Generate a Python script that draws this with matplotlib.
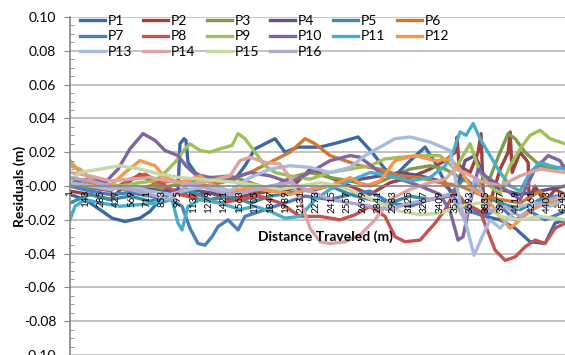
import matplotlib
matplotlib.use("Agg")
import matplotlib.pyplot as plt
from matplotlib.ticker import MultipleLocator, FormatStrFormatter

plt.rcParams['font.family'] = ['Lato', 'DejaVu Sans']

# Dados: indice da amostra (x) e residuo em mm (y)
p1_x = [1,139,278,388,508,646,739,831,923,997,1015,1052,1070,1089,1153,1246,1384,1522,1614,1707,1799,1891,1983,2103,2306,2490,2656,2785,2905,2997,3136,3274,3366,3459,3551,3689,3827,3966,4104,4242,4380,4472,4564]
p1_mm = [-5,-8,-14,-19,-21,-19,-15,-8,-4,-2,25,28,27,14,8,4,2,4,12,22,25,28,20,23,23,26,29,20,10,6,15,23,14,2,-8,-12,-18,-20,-25,-33,-34,-22,-20]

p2_x = [1,185,370,554,646,739,923,1107,1292,1476,1661,1845,2029,2122,2214,2398,2583,2767,2951,3136,3320,3459,3551,3569,3587,3689,3763,3790,3818,3873,3966,4040,4058,4077,4150,4224,4233,4288,4380,4472,4564]
p2_mm = [-3,-5,-8,3,7,3,-2,-6,-4,-8,-5,-3,-2,4,10,5,0,-5,2,5,10,15,20,29,12,8,20,31,-18,-10,10,20,32,8,20,14,-8,0,-10,-2,-5]

p3_x = [1,185,370,554,739,923,1107,1292,1476,1661,1845,2029,2214,2398,2583,2767,2951,3136,3320,3459,3597,3735,3873,3966,4040,4104,4196,4334,4472,4564]
p3_mm = [0,-2,0,-3,-2,0,3,5,6,2,-2,5,8,5,3,0,5,10,12,10,5,0,5,20,31,28,20,12,10,12]

p4_x = [1,278,554,831,1107,1384,1661,1937,2214,2490,2767,3044,3228,3412,3551,3643,3735,3827,3966,4150,4334,4564]
p4_mm = [3,-2,0,-3,-2,-5,-3,0,-3,2,5,8,6,3,-5,15,18,5,-2,-5,-3,0]

p5_x = [1,185,370,554,739,923,1107,1292,1476,1661,1845,2029,2214,2398,2583,2767,2951,3136,3320,3505,3643,3781,3966,4150,4334,4564]
p5_mm = [-10,-5,-8,-6,-9,-5,-3,-8,-6,-10,-6,-4,-2,0,-5,-8,-10,-6,-8,-5,5,-5,-10,-14,-8,-5]

p6_x = [1,185,370,554,739,923,1107,1292,1476,1661,1845,2029,2168,2260,2398,2537,2675,2859,3044,3228,3412,3597,3781,3966,4150,4334,4472,4564]
p6_mm = [5,2,0,-2,0,3,2,0,4,8,14,20,28,25,18,15,12,10,6,5,2,0,-5,-8,-10,-3,-12,-5]

p7_x = [1,185,370,554,739,923,1034,1107,1181,1246,1310,1366,1458,1550,1614,1799,1983,2168,2398,2583,2767,2951,3136,3320,3505,3689,3827,3966,4104,4242,4380,4564]
p7_mm = [0,-3,-5,-4,-6,-8,-12,-25,-34,-35,-30,-24,-20,-26,-18,-14,-10,-6,-8,-5,-3,-10,-12,-8,-6,-15,-18,-12,-20,-15,-20,-15]

p8_x = [1,185,370,554,693,831,1015,1200,1384,1568,1753,1937,2122,2306,2490,2629,2767,2905,2997,3090,3228,3366,3459,3551,3643,3781,3920,4012,4104,4196,4288,4380,4472,4564]
p8_mm = [2,0,-3,4,7,2,-5,-8,-10,-8,-6,-10,-18,-18,-20,-17,-12,-18,-30,-33,-32,-22,-14,-3,-10,-15,-38,-44,-42,-36,-32,-34,-25,-22]

p9_x = [1,93,278,462,646,785,877,969,1061,1107,1200,1292,1384,1495,1550,1614,1707,1799,1891,2029,2214,2398,2583,2767,2905,3044,3228,3412,3551,3643,3689,3781,3873,3966,4012,4058,4150,4242,4334,4426,4518,4564]
p9_mm = [15,8,2,0,2,3,8,14,22,25,21,20,22,24,31,28,20,12,8,6,4,8,10,12,16,17,18,18,10,20,25,8,0,-5,5,12,22,30,33,28,26,25]

p10_x = [1,185,324,444,554,674,785,877,997,1070,1153,1292,1476,1661,1845,2029,2214,2398,2583,2675,2859,3044,3228,3412,3505,3578,3624,3689,3763,3827,3966,4150,4288,4408,4518,4564]
p10_mm = [3,4,2,10,22,31,27,21,18,12,7,5,4,8,6,2,8,15,18,17,8,4,0,-5,-15,-32,-30,-10,10,6,0,-8,10,18,15,10]

p11_x = [1,47,139,278,462,646,831,941,997,1034,1089,1200,1384,1568,1707,1845,1983,2122,2260,2398,2583,2767,2951,3136,3320,3459,3532,3597,3652,3717,3781,3873,3966,4058,4150,4242,4334,4426,4564]
p11_mm = [-20,-12,-8,-10,-12,-11,-10,-8,-22,-26,-12,-8,-10,-14,-12,-15,-19,-18,-8,-2,3,8,6,3,5,12,20,32,30,37,28,18,8,0,-3,8,14,12,10]

p12_x = [1,93,231,370,508,646,785,877,1015,1200,1338,1476,1661,1845,2029,2214,2398,2583,2721,2859,2997,3182,3366,3505,3597,3689,3781,3873,3966,4058,4150,4242,4380,4564]
p12_mm = [12,10,2,0,8,15,12,5,2,6,0,-3,-1,-3,-5,-2,0,5,0,3,15,18,15,16,10,0,-5,-10,-18,-25,-20,-15,-10,-8]

p13_x = [1,185,370,554,739,923,1107,1292,1476,1661,1845,2029,2214,2398,2583,2721,2859,2997,3136,3320,3505,3551,3597,3661,3726,3800,3873,3966,4058,4150,4288,4426,4564]
p13_mm = [2,0,-2,0,-3,-5,-2,0,-3,5,10,12,11,8,11,18,23,28,29,26,21,5,-10,-25,-41,-30,-20,-25,-18,-12,-10,-12,-8]

p14_x = [1,185,370,554,739,923,1107,1292,1476,1568,1661,1799,1937,2029,2122,2214,2306,2398,2537,2675,2813,2951,3136,3320,3459,3551,3643,3781,3966,4150,4334,4564]
p14_mm = [8,6,3,4,5,3,1,3,6,15,17,14,13,5,-8,-25,-33,-34,-33,-29,-20,-8,-2,2,4,10,8,3,0,6,10,8]

p15_x = [1,93,278,462,646,831,1015,1200,1384,1568,1753,1937,2122,2306,2490,2675,2859,3044,3228,3412,3597,3781,3966,4150,4334,4564]
p15_mm = [3,8,10,12,10,7,5,4,3,2,0,-2,0,2,0,-5,-10,-15,-17,-16,-12,-10,-18,-20,-18,-20]

p16_x = [1,185,370,554,739,923,1107,1292,1476,1661,1845,2029,2214,2398,2583,2767,2951,3136,3320,3505,3643,3735,3873,4012,4150,4334,4564]
p16_mm = [5,3,0,-2,-5,-8,2,-2,-5,-3,0,2,-3,-8,-10,-12,-14,-10,-8,-5,-20,5,-15,-12,-18,-10,-5]

nomes = ["P%d" % i for i in range(1, 17)]
series_x = [p1_x, p2_x, p3_x, p4_x, p5_x, p6_x, p7_x, p8_x,
            p9_x, p10_x, p11_x, p12_x, p13_x, p14_x, p15_x, p16_x]
series_mm = [p1_mm, p2_mm, p3_mm, p4_mm, p5_mm, p6_mm, p7_mm, p8_mm,
             p9_mm, p10_mm, p11_mm, p12_mm, p13_mm, p14_mm, p15_mm, p16_mm]
cores = ['#3D69A3', '#A2403D', '#7E9B48', '#654F86', '#3A8EA3', '#D0782F',
         '#4A7EBE', '#C65350', '#9DC05A', '#7F63A3', '#4AADC8', '#F7964A',
         '#A5BCDF', '#DDA3A1', '#C5D9A5', '#B3A5CB']

# rotulos do eixo x (indice de amostra a cada 142)
rotulos_x = [1 + 142 * k for k in range(33)]
grade_y = [-0.10, -0.08, -0.06, -0.04, -0.02, 0.02, 0.04, 0.06, 0.08, 0.10]

fig = plt.figure(figsize=(5.65, 3.55), dpi=100)
ax = fig.add_axes([70 / 565, 0, 495 / 565, 338 / 355])

# eixo x cruzando em zero (antes de mexer nos ticks, senao eles resetam)
for s in ['top', 'right']:
    ax.spines[s].set_visible(False)
ax.spines['bottom'].set_position(('data', 0))
ax.spines['bottom'].set_color('#868686')
ax.spines['bottom'].set_linewidth(1.2)
ax.spines['left'].set_color('#868686')
ax.spines['left'].set_linewidth(1.2)

# grade desenhada a mao, embaixo das linhas; rotulos ficam por cima
for g in grade_y:
    ax.axhline(g, color='#BEBEBE', lw=1.3, zorder=0.5)

linhas = []
for nome, xs, ys, cor in zip(nomes, series_x, series_mm, cores):
    l, = ax.plot(xs, [v / 1000 for v in ys], color=cor, lw=2.4, label=nome,
                 solid_joinstyle='round', zorder=2)
    linhas.append(l)

ax.set_xlim(1, 4564)
ax.set_ylim(-0.10, 0.10)
ax.set_axisbelow(False)

ax.yaxis.set_major_locator(MultipleLocator(0.02))
ax.yaxis.set_minor_locator(MultipleLocator(0.005))
ax.yaxis.set_major_formatter(FormatStrFormatter('%.2f'))

ax.tick_params(axis='y', which='major', direction='out', length=4,
               color='#868686', labelsize=10, pad=6)
ax.tick_params(axis='y', which='minor', direction='in', length=3,
               color='#868686')

ax.set_xticks(rotulos_x)
ax.set_xticklabels([str(r) for r in rotulos_x], rotation=90, fontsize=7)
ax.tick_params(axis='x', length=0, pad=3)

fig.text(325 / 565, 1 - 237 / 355, "Distance Traveled (m)", ha='center',
         va='center', fontsize=10, fontweight='bold')
fig.text(20 / 565, 1 - 186 / 355, "Residuals (m)", ha='center', va='center',
         rotation=90, fontsize=10, fontweight='bold')

# ordem para preencher a legenda linha a linha
ordem = [0, 6, 12, 1, 7, 13, 2, 8, 14, 3, 9, 15, 4, 10, 5, 11]
ax.legend([linhas[i] for i in ordem], [nomes[i] for i in ordem], ncol=6,
          loc='upper left', bbox_to_anchor=(80 / 565, 1 - 15 / 355),
          bbox_transform=fig.transFigure, frameon=False, borderpad=0,
          borderaxespad=0, handlelength=1.8, handletextpad=0.2,
          columnspacing=0.8, labelspacing=0.25, fontsize=10)

fig.savefig("out.png", dpi=100)
